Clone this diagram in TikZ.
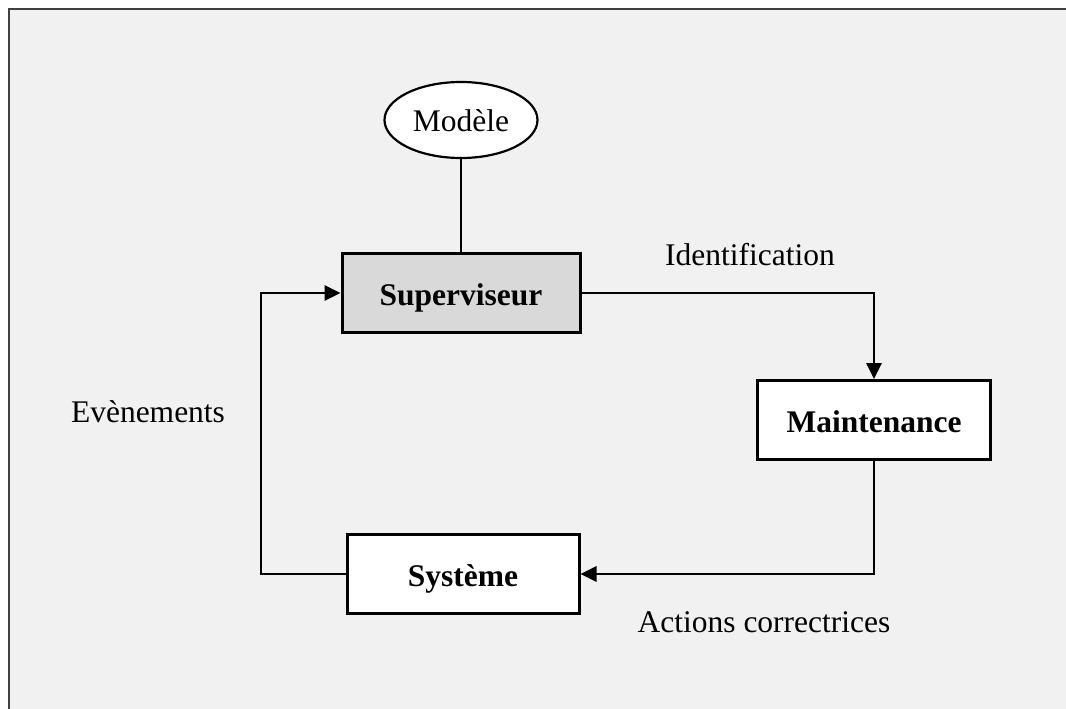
\documentclass[tikz,border=0pt]{standalone}
\usepackage{fontspec}
\setmainfont{Liberation Serif}
\usetikzlibrary{shapes.geometric,arrows.meta}
\definecolor{panel}{HTML}{F1F1F1}
\definecolor{frameline}{HTML}{404040}
\definecolor{supfill}{HTML}{D9D9D9}
\tikzset{
  blockbox/.style={draw=black, line width=3pt, minimum height=79pt, inner sep=0pt,
    text height=24pt, text depth=0pt,
    font=\fontsize{31.5}{36}\selectfont\bfseries},
  modelbox/.style={ellipse, draw=black, line width=2.2pt, fill=white, minimum width=153pt,
    minimum height=76pt, inner sep=0pt, text height=22pt, text depth=0pt,
    font=\fontsize{31.5}{36}\selectfont},
  flow/.style={draw=black, line width=2.8pt, -{Triangle[length=16pt,width=15pt]}},
  plainlink/.style={draw=black, line width=1.4pt},
  lbl/.style={inner sep=0pt, font=\fontsize{31.5}{36}\selectfont}
}
\begin{document}
\begin{tikzpicture}[x=1pt,y=-1pt]
  \useasboundingbox (0,0) rectangle (1066,709);
  % panel with top and left frame lines
  \fill[panel] (9,9) rectangle (1066,709);
  \draw[frameline, line width=2.2pt] (9,709) -- (9,9) -- (1066,9);

  % blocks
  \node[modelbox] (mod) at (461,120) {Modèle};
  \node[blockbox, fill=supfill, minimum width=238pt] (sup) at (461,293) {Superviseur};
  \node[blockbox, fill=white, minimum width=233pt] (maint) at (874,420) {Maintenance};
  \node[blockbox, fill=white, minimum width=232pt] (sys) at (463,574) {Système};

  % connectors
  \coordinate (loop) at (261,0);
  \draw[plainlink] (mod.south) -- (sup.north -| mod.south);
  \draw[flow] (sup.east) -| (maint.north);
  \draw[flow] (maint.south) |- (sys.east);
  \draw[flow] (sys.west) -- (sys.west -| loop) |- (sup.west);

  % labels
  \node[lbl] (lid) at (750,255) {Identification};
  \node[lbl] (lev) at (148,412) {Evènements};
  \node[lbl] (lac) at (764,622) {Actions correctrices};
\end{tikzpicture}
\end{document}
